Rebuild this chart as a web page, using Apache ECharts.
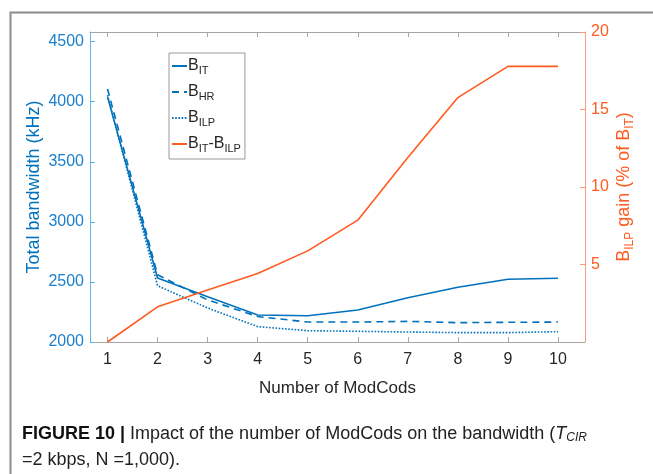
<!DOCTYPE html>
<html>
<head>
<meta charset="utf-8">
<script src="https://cdn.jsdelivr.net/npm/echarts@6/dist/echarts.min.js"></script>
<style>
  html, body { margin: 0; padding: 0; background: #fff; }
  #main { width: 653px; height: 474px; }
</style>
</head>
<body>
<div id="main"></div>
<script>
  // number of ModCods
  const modcods = [1, 2, 3, 4, 5, 6, 7, 8, 9, 10];
  // total bandwidth, kHz
  const bIT = [4040, 2532, 2376, 2225, 2219, 2266, 2369, 2455, 2522, 2530];
  const bHR = [4105, 2560, 2350, 2212, 2166, 2166, 2172, 2161, 2164, 2166];
  const bILP = [4055, 2468, 2283, 2128, 2094, 2089, 2083, 2078, 2078, 2086];
  // B_ILP gain, % of B_IT
  const gain = [0, 2.27, 3.35, 4.42, 5.88, 7.86, 11.9, 15.77, 17.78, 17.78];

  const leftTicks = [2000, 2500, 3000, 3500, 4000, 4500];
  const rightTicks = [5, 10, 15, 20];

  const BLUE = '#0072BD';
  const ORANGE = '#FF5a1f';
  const FONT = '"Liberation Sans", Arial, sans-serif';

  const pairs = (ys) => modcods.map((x, i) => [x, ys[i]]);

  const sub = {
    b: { fontSize: 16, fontFamily: FONT, color: '#262626' },
    s: { fontSize: 11, fontFamily: FONT, color: '#262626', padding: [9, 0, 0, 0] }
  };
  const legendNames = {
    'B_IT': '{b|B}{s|IT}',
    'B_HR': '{b|B}{s|HR}',
    'B_ILP': '{b|B}{s|ILP}',
    'B_IT-B_ILP': '{b|B}{s|IT}{b|-B}{s|ILP}'
  };

  const chart = echarts.init(document.getElementById('main'));

  const option = {
    animation: false,
    backgroundColor: '#fff',
    grid: { left: 90, right: 68, top: 32, bottom: 132 },
    legend: {
      orient: 'vertical',
      left: 169,
      top: 53,
      itemWidth: 15,
      itemHeight: 10,
      itemGap: 8,
      padding: [5, 4, 5, 2],
      backgroundColor: '#fff',
      borderColor: '#999',
      borderWidth: 1,
      borderRadius: 0,
      itemStyle: { opacity: 0 },
      formatter: (n) => legendNames[n],
      textStyle: { rich: sub, padding: [0, 0, 0, -4] },
      data: ['B_IT', 'B_HR', 'B_ILP', 'B_IT-B_ILP']
    },
    xAxis: [
      {
        type: 'value',
        min: 0.65,
        max: 10.54,
        name: 'Number of ModCods',
        nameLocation: 'middle',
        nameGap: 38,
        nameTextStyle: { fontSize: 17, fontFamily: FONT, color: '#262626' },
        axisLine: { lineStyle: { color: '#a6a6a6', width: 1 } },
        axisTick: { inside: true, length: 5, customValues: modcods, lineStyle: { color: '#a6a6a6' } },
        axisLabel: { customValues: modcods, fontSize: 16, fontFamily: FONT, color: '#262626', margin: 10 },
        splitLine: { show: false }
      },
      {
        type: 'value',
        position: 'top',
        min: 0.65,
        max: 10.54,
        axisLine: { lineStyle: { color: '#a6a6a6', width: 1 } },
        axisTick: { inside: true, length: 5, customValues: modcods, lineStyle: { color: '#a6a6a6' } },
        axisLabel: { show: false },
        splitLine: { show: false }
      }
    ],
    yAxis: [
      {
        type: 'value',
        min: 2000,
        max: 4580,
        name: 'Total bandwidth (kHz)',
        nameLocation: 'middle',
        nameRotate: 90,
        nameGap: 47,
        nameMoveOverlap: false,
        nameTextStyle: { fontSize: 18, fontFamily: FONT, color: BLUE },
        axisLine: { show: true, lineStyle: { color: '#5fb4ea', width: 1 } },
        axisTick: { show: true, inside: true, length: 5, customValues: leftTicks, lineStyle: { color: '#5fb4ea' } },
        axisLabel: {
          customValues: leftTicks, fontSize: 16, fontFamily: FONT, color: '#1a7fcc', margin: 6,
          formatter: (v) => String(v)
        },
        splitLine: { show: false }
      },
      {
        type: 'value',
        position: 'right',
        min: 0,
        max: 20,
        name: '{b|B}{s|ILP}{b| gain (% of B}{s|IT}{b|)}',
        nameLocation: 'middle',
        nameRotate: 90,
        nameGap: 28,
        nameMoveOverlap: false,
        nameTextStyle: {
          rich: {
            b: { fontSize: 18, fontFamily: FONT, color: ORANGE },
            s: { fontSize: 12, fontFamily: FONT, color: ORANGE, padding: [11, 0, 0, 0] }
          }
        },
        axisLine: { show: true, lineStyle: { color: '#ff9a78', width: 1 } },
        axisTick: { show: true, inside: true, length: 5, customValues: rightTicks, lineStyle: { color: '#ff9a78' } },
        axisLabel: { customValues: rightTicks, fontSize: 16, fontFamily: FONT, color: ORANGE, margin: 6 },
        splitLine: { show: false }
      }
    ],
    series: [
      {
        name: 'B_IT', type: 'line', showSymbol: false, symbol: 'none',
        data: pairs(bIT),
        lineStyle: { color: BLUE, width: 1.6, type: 'solid' },
        itemStyle: { color: BLUE }
      },
      {
        name: 'B_HR', type: 'line', showSymbol: false, symbol: 'none',
        data: pairs(bHR),
        lineStyle: { color: BLUE, width: 1.6, type: [7, 5] },
        itemStyle: { color: BLUE }
      },
      {
        name: 'B_ILP', type: 'line', showSymbol: false, symbol: 'none',
        data: pairs(bILP),
        lineStyle: { color: BLUE, width: 1.6, type: [1.6, 1.6] },
        itemStyle: { color: BLUE }
      },
      {
        name: 'B_IT-B_ILP', type: 'line', showSymbol: false, symbol: 'none',
        yAxisIndex: 1,
        data: pairs(gain),
        lineStyle: { color: ORANGE, width: 1.6 },
        itemStyle: { color: ORANGE }
      }
    ],
    graphic: [
      // page frame around the figure
      {
        type: 'rect',
        left: 8, top: 10,
        shape: { width: 700, height: 520 },
        style: { fill: null, stroke: '#8c8c8c', lineWidth: 2 },
        silent: true
      },
      {
        type: 'text',
        left: 22, top: 425,
        style: {
          text: '{h|FIGURE 10 | }{n|Impact of the number of ModCods on the bandwidth (}{i|T}{si|CIR}',
          rich: {
            h: { fontSize: 18, fontWeight: 'bold', fontFamily: FONT, fill: '#111' },
            n: { fontSize: 18, fontFamily: FONT, fill: '#222' },
            i: { fontSize: 18, fontStyle: 'italic', fontFamily: FONT, fill: '#222' },
            si: { fontSize: 12, fontStyle: 'italic', fontFamily: FONT, fill: '#222', padding: [8, 0, 0, 0] }
          }
        }
      },
      {
        type: 'text',
        left: 22, top: 451,
        style: {
          text: '=2 kbps, N =1,000).',
          fontSize: 18,
          fontFamily: FONT,
          fill: '#222'
        }
      }
    ]
  };

  chart.setOption(option);
</script>
</body>
</html>
